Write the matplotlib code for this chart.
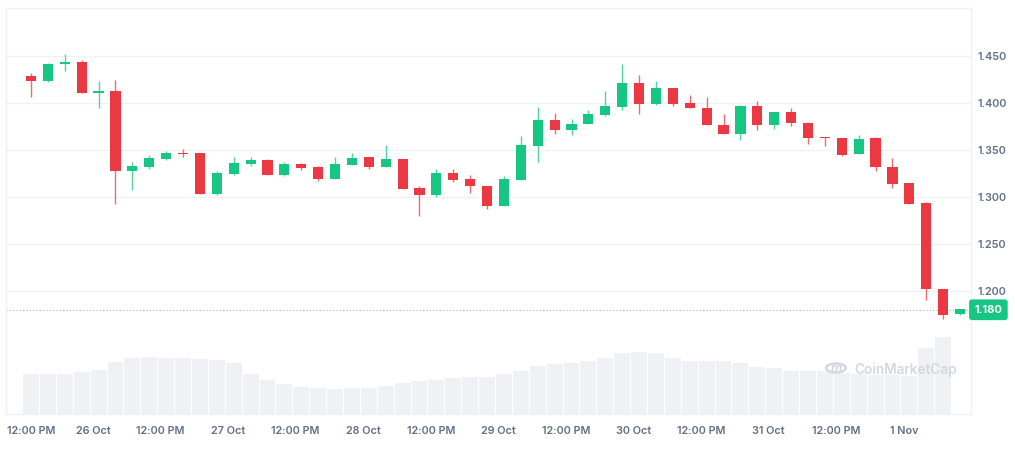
"""CoinMarketCap style 3h candlestick chart with volume bars."""

import matplotlib
matplotlib.use("Agg")
import matplotlib.pyplot as plt
from matplotlib.patches import Circle
import numpy as np

# OHLC per 3h candle
opens = [1.4290, 1.4234, 1.4412, 1.4439, 1.4103, 1.4131, 1.3273, 1.3322, 1.3399, 1.3471,
         1.3471, 1.3035, 1.3242, 1.3354, 1.3390, 1.3234, 1.3351, 1.3319, 1.3191, 1.3340,
         1.3422, 1.3316, 1.3401, 1.3093, 1.3025, 1.3252, 1.3191, 1.3120, 1.2904, 1.3184,
         1.3543, 1.3819, 1.3713, 1.3773, 1.3872, 1.3961, 1.4210, 1.3993, 1.4160, 1.4000,
         1.3950, 1.3769, 1.3673, 1.3971, 1.3766, 1.3908, 1.3790, 1.3633, 1.3631, 1.3454,
         1.3624, 1.3323, 1.3145, 1.2939, 1.2021, 1.1752]
highs = [1.4316, 1.4429, 1.4518, 1.4454, 1.4230, 1.4245, 1.3369, 1.3444, 1.3490, 1.3507,
         1.3471, 1.3273, 1.3426, 1.3426, 1.3401, 1.3369, 1.3362, 1.3330, 1.3422, 1.3471,
         1.3422, 1.3553, 1.3401, 1.3114, 1.3295, 1.3295, 1.3231, 1.3120, 1.3223, 1.3649,
         1.3954, 1.3890, 1.3827, 1.3922, 1.4128, 1.4412, 1.4298, 1.4234, 1.4160, 1.4085,
         1.4063, 1.3883, 1.3978, 1.4021, 1.3908, 1.3950, 1.3790, 1.3637, 1.3631, 1.3660,
         1.3635, 1.3418, 1.3152, 1.2950, 1.2021, 1.1805]
lows = [1.4060, 1.4220, 1.4344, 1.4103, 1.3950, 1.2922, 1.3075, 1.3300, 1.3390, 1.3429,
        1.3035, 1.3025, 1.3234, 1.3333, 1.3234, 1.3227, 1.3284, 1.3173, 1.3191, 1.3340,
        1.3295, 1.3316, 1.3085, 1.2801, 1.2997, 1.3163, 1.3046, 1.2876, 1.2904, 1.3184,
        1.3369, 1.3673, 1.3663, 1.3773, 1.3865, 1.3926, 1.3880, 1.3982, 1.3971, 1.3944,
        1.3766, 1.3673, 1.3603, 1.3713, 1.3723, 1.3759, 1.3567, 1.3543, 1.3440, 1.3454,
        1.3273, 1.3099, 1.2922, 1.1904, 1.1699, 1.1741]
closes = [1.4234, 1.4415, 1.4439, 1.4103, 1.4131, 1.3273, 1.3330, 1.3412, 1.3471, 1.3457,
          1.3035, 1.3252, 1.3362, 1.3394, 1.3234, 1.3351, 1.3312, 1.3191, 1.3351, 1.3418,
          1.3316, 1.3401, 1.3085, 1.3025, 1.3252, 1.3184, 1.3117, 1.2904, 1.3191, 1.3553,
          1.3819, 1.3713, 1.3780, 1.3880, 1.3968, 1.4210, 1.3993, 1.4160, 1.3993, 1.3944,
          1.3766, 1.3673, 1.3971, 1.3766, 1.3908, 1.3784, 1.3624, 1.3625, 1.3447, 1.3620,
          1.3316, 1.3135, 1.2922, 1.2018, 1.1745, 1.1805]

# volume (relative units), last candle has no bar yet
volumes = [40.0, 40.0, 40.0, 41.3, 44.0, 51.3, 56.0, 57.0, 56.0, 56.0,
           55.0, 54.0, 50.3, 39.3, 33.7, 30.0, 27.3, 26.0, 25.0, 26.0,
           26.0, 28.3, 31.0, 32.7, 34.3, 35.3, 36.3, 37.0, 40.0, 42.7,
           47.3, 49.3, 51.0, 52.3, 56.0, 60.3, 61.7, 60.7, 56.0, 53.0,
           53.0, 53.0, 51.0, 46.3, 45.3, 42.7, 42.7, 42.7, 40.7, 39.7,
           38.7, 38.7, 38.0, 66.0, 76.7]

x_labels = ["12:00 PM", "26 Oct", "12:00 PM", "27 Oct", "12:00 PM", "28 Oct", "12:00 PM",
            "29 Oct", "12:00 PM", "30 Oct", "12:00 PM", "31 Oct", "12:00 PM", "1 Nov"]
price_ticks = [1.200, 1.250, 1.300, 1.350, 1.400, 1.450]
last_price = 1.180

GREEN = "#16C784"
RED = "#EA3943"
GRID = "#EFF2F5"
LABEL = "#616E85"

plt.rcParams["font.family"] = ["Inter", "DejaVu Sans"]

fig = plt.figure(figsize=(10.15, 4.58), dpi=100)
rect = [6 / 1015, 44 / 458, 965 / 1015, 406 / 458]

# volume pane underneath
ax_vol = fig.add_axes(rect)
idx = np.arange(len(opens))
ax_vol.bar(idx[:len(volumes)], volumes, width=0.94, color="#EFF1F4", zorder=1)
ax_vol.set_ylim(0, max(volumes) / 0.19)
ax_vol.set_xlim(-1.48, 55.65)
ax_vol.axis("off")

# price pane on top
ax = fig.add_axes(rect, sharex=ax_vol)
ax.set_facecolor("none")
o = np.array(opens)
c = np.array(closes)
up = c >= o
colors = np.where(up, GREEN, RED)
ax.vlines(idx, lows, highs, colors=colors, linewidth=1, alpha=0.75, zorder=3)
body = np.maximum(np.abs(c - o), 0.0012)
ax.bar(idx, body, bottom=np.minimum(o, c), width=0.6, color=colors, zorder=4)

ax.set_ylim(1.0691, 1.5011)
ax.set_yticks(price_ticks)
ax.set_yticklabels([f"{t:.3f}" for t in price_ticks])
ax.yaxis.tick_right()
ax.grid(axis="y", color=GRID, linewidth=0.9, zorder=0)
xticks = np.arange(len(x_labels)) * 4 - 0.33
xticks[0] = 0.0  # first label is pushed inside the frame
ax.set_xticks(xticks)
ax.set_xticklabels(x_labels)
ax.tick_params(length=0, labelsize=7.8, labelcolor=LABEL)
ax.tick_params(axis="y", pad=5)
ax.tick_params(axis="x", pad=9)
for lab in ax.get_xticklabels() + ax.get_yticklabels():
    lab.set_fontweight("semibold")
for side in ax.spines.values():
    side.set_color(GRID)
    side.set_linewidth(1)

# current price line and tag
ax.axhline(last_price, color="#A6B0C3", linestyle=(0, (1, 2)), linewidth=0.8, zorder=2)
ax.annotate(f"{last_price:.3f}", xy=(1, last_price),
            xycoords=("axes fraction", "data"), xytext=(2.5, 0), textcoords="offset points",
            ha="left", va="center", color="white", fontsize=8, fontweight="bold",
            bbox={"boxstyle": "round,pad=0.42,rounding_size=0.2",
                  "facecolor": GREEN, "edgecolor": GREEN}, annotation_clip=False)

# watermark
fig.text(854 / 1015, 1 - 370 / 458, "CoinMarketCap", fontsize=9.8, fontweight="semibold",
         color="#D3D8DF", ha="left", va="center")
fig.patches.append(Circle((836 / 1015, 1 - 368 / 458), 0.0097, transform=fig.transFigure,
                          fill=False, edgecolor="#D3D8DF", linewidth=1.8))
fig.text(836 / 1015, 1 - 369 / 458, "m", fontsize=9, fontweight="bold", color="#D3D8DF",
         ha="center", va="center", style="italic")

fig.savefig("out.png", dpi=100)
